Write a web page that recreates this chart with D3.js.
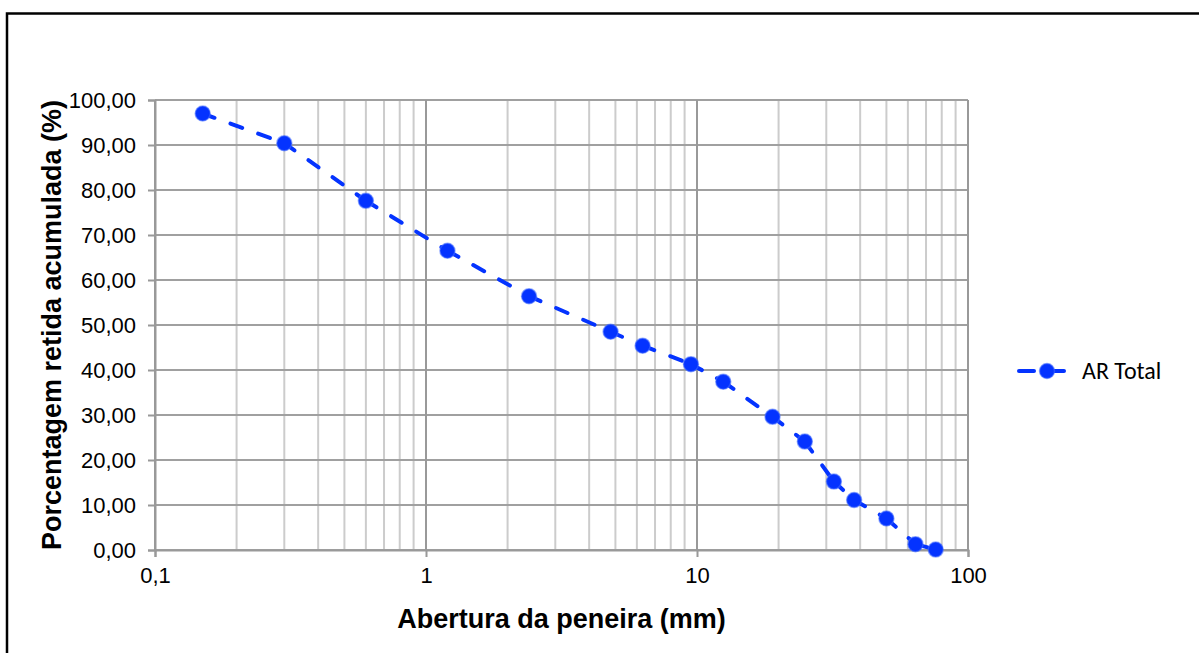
<!DOCTYPE html>
<html>
<head>
<meta charset="utf-8">
<script src="https://cdn.jsdelivr.net/npm/d3@7"></script>
<style>
  body { margin: 0; background: #fff; }
  svg { display: block; }
  .tick-label { font-family: "Liberation Sans", Arial, sans-serif; font-size: 22px; fill: #000; }
  .axis-title { font-family: "Liberation Sans", Arial, sans-serif; font-size: 27px; font-weight: bold; fill: #000; }
  .legend-label { font-family: Carlito, Calibri, Lato, sans-serif; font-size: 24px; fill: #000; }
</style>
</head>
<body>
<svg id="chart"></svg>
<script>
// sieve openings (mm) and cumulative retained percentage
const aberturas = [0.15, 0.3, 0.6, 1.2, 2.4, 4.8, 6.3, 9.5, 12.5, 19, 25, 32, 38, 50, 64, 76];
const retidaAcumulada = [97.0, 90.4, 77.6, 66.5, 56.4, 48.5, 45.4, 41.3, 37.4, 29.6, 24.1, 15.2, 11.1, 7.0, 1.3, 0.1];

const xTicks = [0.1, 1, 10, 100];
const xTickLabels = ['0,1', '1', '10', '100'];
const yTicks = [0, 10, 20, 30, 40, 50, 60, 70, 80, 90, 100];
const seriesName = 'AR Total';

const W = 1199, H = 653;
const margin = { top: 100, right: 231, bottom: 103, left: 155 };
const width = W - margin.left - margin.right;
const height = H - margin.top - margin.bottom;

const blue = '#0433ff';

const svg = d3.select('#chart').attr('width', W).attr('height', H);

// outer frame
svg.append('rect')
    .attr('x', 7).attr('y', 13.5)
    .attr('width', W + 20).attr('height', H + 20)
    .attr('fill', 'none').attr('stroke', '#000').attr('stroke-width', 2.5);

const g = svg.append('g').attr('transform', `translate(${margin.left},${margin.top})`);

const x = d3.scaleLog().domain([0.1, 100]).range([0, width]);
const y = d3.scaleLinear().domain([0, 100]).range([height, 0]);

// minor vertical grid (2..9 per decade)
const minor = [];
[0.1, 1, 10].forEach((dec) => { for (let k = 2; k <= 9; k++) minor.push(dec * k); });
g.append('g').selectAll('line').data(minor).join('line')
    .attr('x1', (d) => x(d)).attr('x2', (d) => x(d))
    .attr('y1', 0).attr('y2', height)
    .attr('stroke', '#cccccc').attr('stroke-width', 2);

// horizontal grid
g.append('g').selectAll('line').data(yTicks).join('line')
    .attr('x1', 0).attr('x2', width)
    .attr('y1', (d) => y(d)).attr('y2', (d) => y(d))
    .attr('stroke', '#a0a0a0').attr('stroke-width', 2);

// major vertical grid
g.append('g').selectAll('line').data(xTicks).join('line')
    .attr('x1', (d) => x(d)).attr('x2', (d) => x(d))
    .attr('y1', 0).attr('y2', height)
    .attr('stroke', '#999999').attr('stroke-width', 2);

// y axis
const yAxis = g.append('g')
    .call(d3.axisLeft(y).tickValues(yTicks).tickSize(7).tickPadding(12)
        .tickFormat((d) => d3.format('.2f')(d).replace('.', ',')));
yAxis.select('.domain').attr('stroke', '#999').attr('stroke-width', 2);
yAxis.selectAll('.tick line').attr('stroke', '#999').attr('stroke-width', 2);
yAxis.selectAll('.tick text').attr('class', 'tick-label').attr('font-size', null).attr('font-family', null);

// x axis
const xAxis = g.append('g').attr('transform', `translate(0,${height})`)
    .call(d3.axisBottom(x).tickValues(xTicks).tickSize(7).tickPadding(10)
        .tickFormat((d, i) => xTickLabels[i]));
xAxis.select('.domain').attr('stroke', '#999').attr('stroke-width', 2);
xAxis.selectAll('.tick line').attr('stroke', '#999').attr('stroke-width', 2);
xAxis.selectAll('.tick text').attr('class', 'tick-label').attr('font-size', null).attr('font-family', null);
svg.selectAll('.tick-label').attr('fill', '#000');

// axis titles
svg.append('text').attr('class', 'axis-title')
    .attr('x', margin.left + width / 2).attr('y', 628)
    .attr('text-anchor', 'middle')
    .text('Abertura da peneira (mm)');

svg.append('text').attr('class', 'axis-title')
    .attr('transform', `translate(61,${margin.top + height / 2}) rotate(-90)`)
    .attr('text-anchor', 'middle')
    .text('Porcentagem retida acumulada (%)');

// series: dashed segments, pattern restarts at each point like the spreadsheet
const pts = aberturas.map((a, i) => ({ a, p: retidaAcumulada[i] }));
const line = d3.line().x((d) => x(d.a)).y((d) => y(d.p));
const segs = d3.pairs(pts);
g.append('g').selectAll('path').data(segs).join('path')
    .attr('d', (d) => line(d))
    .attr('fill', 'none')
    .attr('stroke', blue).attr('stroke-width', 4)
    .attr('stroke-linecap', 'round')
    .attr('stroke-dasharray', '12.5,17');

g.append('g').selectAll('circle').data(pts).join('circle')
    .attr('cx', (d) => x(d.a)).attr('cy', (d) => y(d.p))
    .attr('r', 7.5)
    .attr('fill', blue)
    .attr('stroke', 'rgba(70,110,255,0.55)').attr('stroke-width', 1.5);

// legend
const lg = svg.append('g').attr('transform', 'translate(0,371)');
lg.append('line').attr('x1', 1019).attr('x2', 1034).attr('y1', 0).attr('y2', 0)
    .attr('stroke', blue).attr('stroke-width', 4).attr('stroke-linecap', 'round');
lg.append('line').attr('x1', 1050).attr('x2', 1064).attr('y1', 0).attr('y2', 0)
    .attr('stroke', blue).attr('stroke-width', 4).attr('stroke-linecap', 'round');
lg.append('circle').attr('cx', 1047).attr('cy', 0).attr('r', 7.5)
    .attr('fill', blue).attr('stroke', 'rgba(70,110,255,0.55)').attr('stroke-width', 1.5);
lg.append('text').attr('class', 'legend-label')
    .attr('x', 1082).attr('y', 0).attr('dy', '0.35em')
    .text(seriesName);
</script>
</body>
</html>
